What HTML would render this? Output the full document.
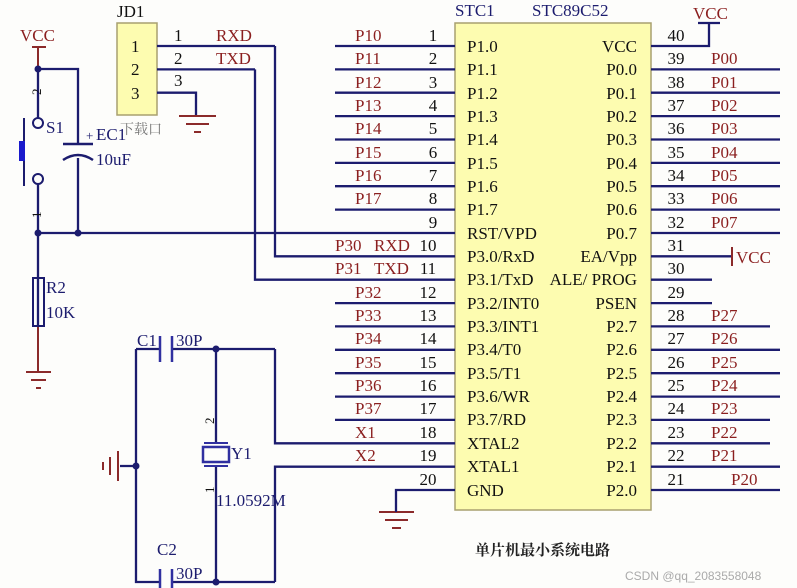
<!DOCTYPE html>
<html><head><meta charset="utf-8"><style>
html,body{margin:0;padding:0;background:#fff;}
svg{display:block;font-family:"Liberation Serif","Noto Serif CJK SC",serif;}
.w{stroke:#1c1c6e;stroke-width:2.3;fill:none}
.r{fill:#8b1f1f;font-size:17px}
.k{fill:#111;font-size:17px}
.b{fill:#1c1c6e;font-size:17px}
.g{stroke:#8b2a2a;stroke-width:2}
</style></head><body>
<svg width="797" height="588" viewBox="0 0 797 588" xmlns="http://www.w3.org/2000/svg">
<rect width="797" height="588" fill="#fdfdfb"/>
<rect x="455" y="23" width="196" height="487" fill="#fdfcb0" stroke="#a8a070" stroke-width="1.5"/>
<text x="455" y="16" class="b">STC1</text><text x="532" y="16" class="b">STC89C52</text>
<g class="w">
<path d="M335 46H455M335 69.4H455M335 92.7H455M335 116.1H455M335 139.5H455M335 162.9H455M335 186.2H455M335 209.6H455M38 233H455M275 46V256.3H455M255 69.4V279.7H455M335 303.1H455M335 326.4H455M335 349.8H455M335 373.2H455M335 396.6H455M335 419.9H455M275 349V443.3H455M275 582V466.7H455M396 512V490H455"/>
<path d="M651 46H709V23M698 23H720M651 69.4H780M651 92.7H780M651 116.1H780M651 139.5H780M651 162.9H780M651 186.2H780M651 209.6H780M651 233H780M651 256.3H732M651 279.7H712M651 303.1H712M651 326.4H770M651 349.8H780M651 373.2H780M651 396.6H780M651 419.9H770M651 443.3H770M651 466.7H780M651 490H780"/>
</g>
<path d="M732 247V266" class="g"/>
<g class="k" text-anchor="middle">
<text x="433" y="41">1</text><text x="433" y="64">2</text><text x="433" y="88">3</text><text x="433" y="111">4</text><text x="433" y="134">5</text><text x="433" y="158">6</text><text x="433" y="181">7</text><text x="433" y="204">8</text><text x="433" y="228">9</text><text x="428" y="251">10</text><text x="428" y="274">11</text><text x="428" y="298">12</text><text x="428" y="321">13</text><text x="428" y="344">14</text><text x="428" y="368">15</text><text x="428" y="391">16</text><text x="428" y="414">17</text><text x="428" y="438">18</text><text x="428" y="461">19</text><text x="428" y="485">20</text>
<text x="676" y="41">40</text><text x="676" y="64">39</text><text x="676" y="88">38</text><text x="676" y="111">37</text><text x="676" y="134">36</text><text x="676" y="158">35</text><text x="676" y="181">34</text><text x="676" y="204">33</text><text x="676" y="228">32</text><text x="676" y="251">31</text><text x="676" y="274">30</text><text x="676" y="298">29</text><text x="676" y="321">28</text><text x="676" y="344">27</text><text x="676" y="368">26</text><text x="676" y="391">25</text><text x="676" y="414">24</text><text x="676" y="438">23</text><text x="676" y="461">22</text><text x="676" y="485">21</text>
</g>
<g class="k">
<text x="467" y="52">P1.0</text><text x="467" y="75">P1.1</text><text x="467" y="99">P1.2</text><text x="467" y="122">P1.3</text><text x="467" y="145">P1.4</text><text x="467" y="169">P1.5</text><text x="467" y="192">P1.6</text><text x="467" y="215">P1.7</text><text x="467" y="239">RST/VPD</text><text x="467" y="262">P3.0/RxD</text><text x="467" y="285">P3.1/TxD</text><text x="467" y="309">P3.2/INT0</text><text x="467" y="332">P3.3/INT1</text><text x="467" y="355">P3.4/T0</text><text x="467" y="379">P3.5/T1</text><text x="467" y="402">P3.6/WR</text><text x="467" y="425">P3.7/RD</text><text x="467" y="449">XTAL2</text><text x="467" y="472">XTAL1</text><text x="467" y="496">GND</text>
</g>
<g class="k" text-anchor="end">
<text x="637" y="52">VCC</text><text x="637" y="75">P0.0</text><text x="637" y="99">P0.1</text><text x="637" y="122">P0.2</text><text x="637" y="145">P0.3</text><text x="637" y="169">P0.4</text><text x="637" y="192">P0.5</text><text x="637" y="215">P0.6</text><text x="637" y="239">P0.7</text><text x="637" y="262">EA/Vpp</text><text x="637" y="285">ALE/ PROG</text><text x="637" y="309">PSEN</text><text x="637" y="332">P2.7</text><text x="637" y="355">P2.6</text><text x="637" y="379">P2.5</text><text x="637" y="402">P2.4</text><text x="637" y="425">P2.3</text><text x="637" y="449">P2.2</text><text x="637" y="472">P2.1</text><text x="637" y="496">P2.0</text>
</g>
<g class="r">
<text x="355" y="41">P10</text><text x="355" y="64">P11</text><text x="355" y="88">P12</text><text x="355" y="111">P13</text><text x="355" y="134">P14</text><text x="355" y="158">P15</text><text x="355" y="181">P16</text><text x="355" y="204">P17</text><text x="335" y="251">P30</text><text x="374" y="251">RXD</text><text x="335" y="274">P31</text><text x="374" y="274">TXD</text><text x="355" y="298">P32</text><text x="355" y="321">P33</text><text x="355" y="344">P34</text><text x="355" y="368">P35</text><text x="355" y="391">P36</text><text x="355" y="414">P37</text><text x="355" y="438">X1</text><text x="355" y="461">X2</text>
<text x="711" y="64">P00</text><text x="711" y="88">P01</text><text x="711" y="111">P02</text><text x="711" y="134">P03</text><text x="711" y="158">P04</text><text x="711" y="181">P05</text><text x="711" y="204">P06</text><text x="711" y="228">P07</text><text x="736" y="263">VCC</text><text x="693" y="19">VCC</text>
<text x="711" y="321">P27</text><text x="711" y="344">P26</text><text x="711" y="368">P25</text><text x="711" y="391">P24</text><text x="711" y="414">P23</text><text x="711" y="438">P22</text><text x="711" y="461">P21</text><text x="731" y="485">P20</text>
<text x="216" y="41">RXD</text><text x="216" y="64">TXD</text><text x="20" y="41">VCC</text>
</g>
<text x="117" y="17" class="k">JD1</text>
<rect x="117" y="23" width="40" height="92" fill="#fdfcb0" stroke="#a8a070" stroke-width="1.5"/>
<g class="k"><text x="131" y="52">1</text><text x="131" y="75">2</text><text x="131" y="99">3</text><text x="174" y="41">1</text><text x="174" y="64">2</text><text x="174" y="86">3</text></g>
<text x="120" y="134" style="font-size:14px;fill:#777">下载口</text>
<path class="w" d="M157 46H275M157 69.4H255M157 92.7H196V115"/>
<path class="g" d="M179 116H216M186 124H209M194 132H201"/>
<path class="w" d="M38 69V118M38 184V326M38 69H78V143M78 158V233"/>
<path class="g" d="M32 47H46M38 47V69M26 372H51M31 380H46M36 388H41M38 326V372"/>
<circle cx="38" cy="69" r="3.5" fill="#1c1c6e"/><circle cx="38" cy="233" r="3.5" fill="#1c1c6e"/><circle cx="78" cy="233" r="3.5" fill="#1c1c6e"/>
<circle cx="38" cy="123" r="5" fill="none" stroke="#1c1c6e" stroke-width="2"/><circle cx="38" cy="179" r="5" fill="none" stroke="#1c1c6e" stroke-width="2"/>
<path d="M24 118V186" stroke="#1c1c6e" stroke-width="2"/><rect x="19" y="141" width="6" height="20" fill="#1a1acc"/>
<path d="M63 144H93" stroke="#1c1c6e" stroke-width="2.5"/><path d="M63 160Q78 150 93 160" stroke="#1c1c6e" stroke-width="2.5" fill="none"/>
<text x="86" y="140" class="b" style="font-size:13px">+</text>
<g class="b"><text x="96" y="140">EC1</text><text x="96" y="165">10uF</text><text x="46" y="133">S1</text><text x="46" y="293">R2</text><text x="46" y="318">10K</text></g>
<g class="k" style="font-size:13px"><text transform="translate(41,95) rotate(-90)">2</text><text transform="translate(41,218) rotate(-90)">1</text></g>
<rect x="33" y="278" width="11" height="48" fill="none" stroke="#1c1c6e" stroke-width="2"/>
<path class="w" d="M136 349H160M172 349H275M136 349V582H160M172 582H275M216 349V443M216 465V582M120 466H136"/>
<path d="M160 336V362M172 336V362M160 569V588M172 569V588" stroke="#3030a0" stroke-width="2.5"/>
<path class="g" d="M118 451V481M110 457V475M103 462V470"/>
<circle cx="136" cy="466" r="3.5" fill="#1c1c6e"/><circle cx="216" cy="349" r="3.5" fill="#1c1c6e"/><circle cx="216" cy="582" r="3.5" fill="#1c1c6e"/>
<rect x="203" y="447" width="26" height="15" fill="none" stroke="#3030a0" stroke-width="2.5"/>
<path d="M204 443H228M204 466H228" stroke="#3030a0" stroke-width="2"/>
<g class="b"><text x="137" y="346">C1</text><text x="176" y="346">30P</text><text x="231" y="459">Y1</text><text x="216" y="506">11.0592M</text><text x="157" y="555">C2</text><text x="176" y="579">30P</text></g>
<g class="k" style="font-size:13px"><text transform="translate(214,424) rotate(-90)">2</text><text transform="translate(214,493) rotate(-90)">1</text></g>
<path class="g" d="M379 512H414M385 520H408M392 528H401"/>
<path d="M396 490V512" stroke="#1c1c6e" stroke-width="2"/>
<text x="475" y="555" style="font-size:15px;font-weight:bold;fill:#222;font-family:'Liberation Serif','Noto Serif CJK SC',serif">单片机最小系统电路</text>
<text x="625" y="580" style="font-size:12px;fill:#aaa;font-family:'Liberation Sans',sans-serif">CSDN @qq_2083558048</text>
</svg>
</body></html>
